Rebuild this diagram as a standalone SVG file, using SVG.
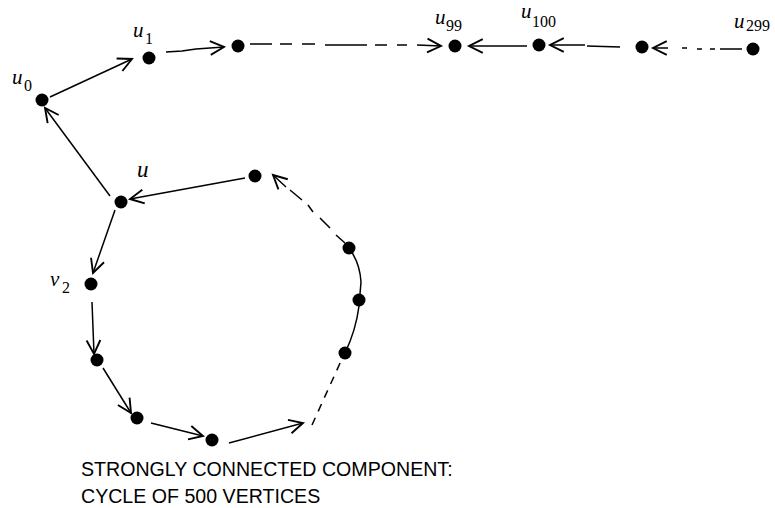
<svg xmlns="http://www.w3.org/2000/svg" width="775" height="508" viewBox="0 0 775 508">
<style>
.e{fill:none;stroke:#000;stroke-width:1.5;marker-end:url(#ah)}
.p{fill:none;stroke:#000;stroke-width:1.5}
.d{fill:none;stroke:#000;stroke-width:1.5;stroke-dasharray:8 7}
.dot{fill:#000}
.u{font-family:"Liberation Serif",serif;font-style:italic;font-size:21px;fill:#000}
.s{font-family:"Liberation Serif",serif;font-size:16px;fill:#000}
.t{font-family:"Liberation Sans",Arial,sans-serif;font-size:19.6px;fill:#000}
</style>
<defs>
<marker id="ah" markerUnits="userSpaceOnUse" markerWidth="20" markerHeight="20" refX="0" refY="0" viewBox="-14 -8 16 16" orient="auto" overflow="visible">
<path d="M-11,-5.5 L0,0 L-11,5.5" fill="none" stroke="#000" stroke-width="1.5"/>
</marker>
</defs>
<rect width="775" height="508" fill="#fff"/>
<g id="connectors">
<line class="e" x1="50" y1="97" x2="132" y2="59"/>
<path class="e" d="M166,52 L182,51 L196,49 L224,47"/>
<path class="e" d="M250,44 H272 M280,44 H292 M302,44 H315 M325,45 H367 M375,45 H387 M397,45 H407 M417,45 L441,46"/>
<line class="e" x1="527" y1="46" x2="469" y2="46"/>
<path class="e" d="M620,47 L587,46 M585,45 L550,45"/>
<path class="e" d="M742,49 L720,49 M715,49 L710,49 M702,49 L697,49 M687,48 L682,48 M668,48 L653,48"/>
<line class="e" x1="110" y1="196" x2="45" y2="108"/>
<line class="e" x1="245" y1="178" x2="130" y2="199"/>
<line class="e" x1="115" y1="210" x2="93" y2="273"/>
<line class="e" x1="92" y1="302" x2="94" y2="354"/>
<line class="e" x1="103" y1="368" x2="131" y2="413"/>
<line class="e" x1="151" y1="423" x2="203" y2="436"/>
<line class="e" x1="229" y1="443" x2="303" y2="423"/>
<line class="d" x1="312" y1="425" x2="341" y2="361"/>
<path class="p" d="M345,353 Q356,330 359,306 L361,282 Q360,263 349,248"/>
<path class="e" d="M345,243 L336,235 M330,228 L320,218 M313,212 L308,205 M302,200 L290,190 M286,187 L273,175"/>
</g>
<g id="u0"><circle class="dot" cx="42" cy="100" r="6.5"/><text class="u" x="12" y="84">u</text><text class="s" x="24" y="91">0</text></g>
<g id="u1"><circle class="dot" cx="149" cy="58" r="6.5"/><text class="u" x="133" y="37">u</text><text class="s" x="145" y="44">1</text></g>
<g id="n2"><circle class="dot" cx="238" cy="46" r="6.5"/></g>
<g id="u99"><circle class="dot" cx="455" cy="46" r="6.5"/><text class="u" x="435" y="24">u</text><text class="s" x="446" y="31">99</text></g>
<g id="u100"><circle class="dot" cx="539" cy="45" r="6.5"/><text class="u" x="521" y="18">u</text><text class="s" x="532" y="27">100</text></g>
<g id="n101"><circle class="dot" cx="642" cy="47" r="6.5"/></g>
<g id="u299"><circle class="dot" cx="753" cy="49" r="6.5"/><text class="u" x="734" y="28">u</text><text class="s" x="746" y="31">299</text></g>
<g id="u"><circle class="dot" cx="121" cy="202" r="6.5"/><text class="u" x="137" y="177" style="font-size:23px">u</text></g>
<g id="v1"><circle class="dot" cx="255" cy="176" r="6.5"/></g>
<g id="v2"><circle class="dot" cx="91" cy="284" r="6.5"/><text class="u" x="50" y="286">v</text><text class="s" x="62" y="293">2</text></g>
<g id="c1"><circle class="dot" cx="97" cy="360" r="6.5"/></g>
<g id="c2"><circle class="dot" cx="137" cy="418" r="6.5"/></g>
<g id="c3"><circle class="dot" cx="212" cy="440" r="6.5"/></g>
<g id="r3"><circle class="dot" cx="345" cy="353" r="6.5"/></g>
<g id="r2"><circle class="dot" cx="359" cy="300" r="6.5"/></g>
<g id="r1"><circle class="dot" cx="349" cy="248" r="6.5"/></g>
<g id="caption">
<text class="t" x="81" y="476">STRONGLY CONNECTED COMPONENT:</text>
<text class="t" x="81" y="503">CYCLE OF 500 VERTICES</text>
</g>
</svg>
